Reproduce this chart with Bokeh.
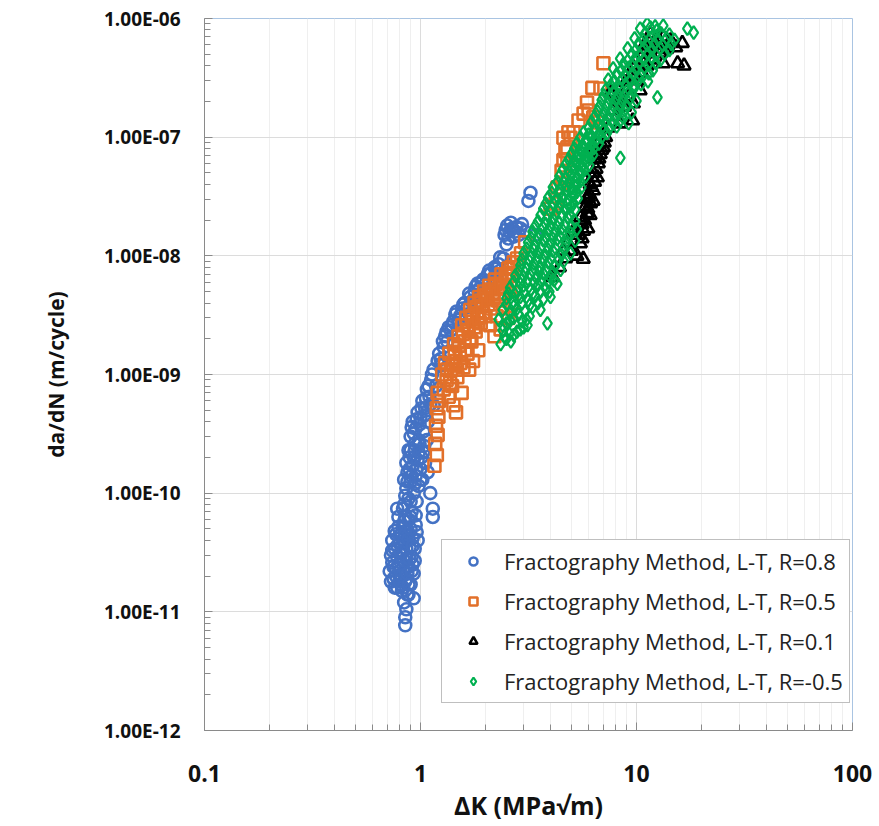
from bokeh.plotting import figure
from bokeh.models import (FixedTicker, CustomJSTickFormatter, Legend, LegendItem, Range1d,
                          ColumnDataSource)
from bokeh.embed import file_html
from bokeh.resources import INLINE

# ---------------- data ----------------
x_ticks = [0.1, 1, 10, 100]
x_tick_labels = ["0.1", "1", "10", "100"]
y_ticks = [1e-12, 1e-11, 1e-10, 1e-9, 1e-8, 1e-7, 1e-6]
y_tick_labels = ["1.00E-12", "1.00E-11", "1.00E-10", "1.00E-09", "1.00E-08", "1.00E-07", "1.00E-06"]

series_labels = [
    "Fractography Method, L-T, R=0.8",
    "Fractography Method, L-T, R=0.5",
    "Fractography Method, L-T, R=0.1",
    "Fractography Method, L-T, R=-0.5",
]

# R = 0.8  (delta K [MPa sqrt m], da/dN [m/cycle])
r08_points = [
    (0.85, 7.7e-12), (0.85, 9.0e-12), (0.86, 1.05e-11), (0.84, 1.2e-11), (0.88, 1.4e-11),
    (0.72, 2.2e-11), (0.73, 3.0e-11), (0.74, 2.6e-11), (0.74, 4.0e-11), (0.75, 1.9e-11),
    (0.76, 3.4e-11), (0.77, 2.3e-11), (0.77, 4.5e-11), (0.78, 1.6e-11), (0.78, 2.9e-11),
    (0.79, 5.2e-11), (0.80, 2.0e-11), (0.80, 3.8e-11), (0.81, 2.6e-11), (0.82, 1.5e-11),
    (0.82, 4.6e-11), (0.83, 3.2e-11), (0.84, 2.2e-11), (0.84, 5.8e-11), (0.85, 1.8e-11),
    (0.85, 3.9e-11), (0.86, 2.8e-11), (0.87, 1.4e-11), (0.87, 4.9e-11), (0.88, 2.4e-11),
    (0.89, 3.5e-11), (0.90, 1.7e-11), (0.90, 6.3e-11), (0.91, 2.9e-11), (0.92, 4.2e-11),
    (0.93, 2.1e-11), (0.94, 3.4e-11), (0.95, 5.4e-11), (0.93, 1.3e-11), (0.76, 1.6e-11),
    (0.81, 1.7e-11), (0.86, 1.9e-11), (0.92, 2.5e-11), (0.97, 4.0e-11),
    (0.73, 1.8e-11), (0.74, 3.3e-11), (0.75, 2.4e-11), (0.76, 4.8e-11), (0.77, 2.0e-11),
    (0.78, 3.6e-11), (0.79, 2.5e-11), (0.80, 1.8e-11), (0.80, 4.4e-11), (0.81, 3.2e-11),
    (0.82, 2.0e-11), (0.83, 5.2e-11), (0.84, 2.7e-11), (0.85, 4.5e-11), (0.86, 3.4e-11),
    (0.87, 2.1e-11), (0.88, 4.1e-11), (0.89, 2.8e-11), (0.90, 5.0e-11), (0.91, 2.2e-11),
    (0.92, 3.6e-11), (0.94, 2.7e-11), (0.96, 4.7e-11), (0.83, 1.6e-11), (0.88, 1.7e-11),
    (0.78, 7.4e-11), (0.83, 7.4e-11), (0.79, 6.3e-11), (0.85, 6.3e-11), (1.11, 1.0e-10),
    (1.14, 7.4e-11), (1.14, 6.3e-11),
    (0.84, 8.0e-11), (0.86, 1.1e-10), (0.87, 1.5e-10), (0.88, 9.0e-11), (0.89, 2.0e-10),
    (0.90, 1.25e-10), (0.91, 7.0e-11), (0.92, 1.7e-10), (0.93, 1.0e-10), (0.94, 2.3e-10),
    (0.95, 1.4e-10), (0.96, 8.5e-11), (0.97, 1.9e-10), (0.98, 1.15e-10), (0.99, 2.6e-10),
    (1.00, 1.6e-10), (1.02, 1.3e-10), (1.03, 2.2e-10), (1.05, 1.8e-10), (1.07, 2.8e-10),
    (1.08, 1.5e-10), (0.88, 6.0e-11), (0.95, 6.5e-11),
    (0.85, 9.5e-11), (0.87, 1.25e-10), (0.89, 1.6e-10), (0.90, 8.5e-11), (0.91, 1.4e-10),
    (0.93, 2.0e-10), (0.94, 1.2e-10), (0.96, 1.6e-10), (0.98, 2.2e-10), (1.00, 1.3e-10),
    (1.01, 2.0e-10), (1.04, 2.5e-10), (0.86, 1.8e-10), (0.84, 1.3e-10), (0.90, 2.3e-10),
    (0.88, 2.3e-10), (0.90, 3.0e-10), (0.92, 4.0e-10), (0.93, 3.2e-10), (0.95, 3.5e-10),
    (0.97, 4.8e-10), (0.98, 2.8e-10), (1.00, 4.3e-10), (1.02, 6.0e-10), (1.03, 3.3e-10),
    (1.05, 5.2e-10), (1.07, 7.5e-10), (1.08, 4.0e-10), (1.10, 6.5e-10), (1.12, 9.0e-10),
    (1.15, 5.5e-10), (1.15, 1.1e-9), (1.18, 8.0e-10), (1.20, 1.3e-9),
    (0.91, 3.6e-10), (0.94, 2.6e-10), (0.96, 4.2e-10), (0.99, 3.8e-10), (1.01, 5.2e-10),
    (1.04, 4.5e-10), (1.06, 6.3e-10), (1.09, 8.0e-10), (1.11, 5.6e-10), (1.13, 1.0e-9),
    (1.22, 1.5e-9), (1.25, 1.2e-9), (1.28, 1.7e-9), (1.30, 2.1e-9), (1.33, 1.9e-9),
    (1.35, 2.5e-9), (1.38, 2.35e-9), (1.42, 2.8e-9), (1.45, 3.2e-9), (1.50, 2.9e-9),
    (1.53, 3.15e-9), (1.56, 3.6e-9), (1.60, 4.0e-9), (1.65, 3.7e-9), (1.70, 4.5e-9),
    (1.74, 4.2e-9), (1.78, 5.0e-9), (1.84, 5.85e-9), (1.88, 5.3e-9), (1.95, 6.3e-9),
    (2.00, 5.8e-9), (2.05, 7.0e-9), (2.11, 7.1e-9), (2.18, 6.5e-9), (2.25, 7.8e-9),
    (2.34, 7.5e-9), (2.34, 9.7e-9), (2.42, 9.5e-9), (2.45, 1.5e-8), (2.52, 1.8e-8),
    (2.58, 1.6e-8), (2.62, 1.9e-8), (2.70, 1.45e-8), (2.78, 1.75e-8), (2.85, 1.5e-8),
    (2.95, 1.85e-8), (3.05, 1.6e-8), (3.16, 2.9e-8), (3.23, 3.4e-8), (3.40, 1.5e-8),
    (2.50, 1.25e-8),
    (1.24, 1.35e-9), (1.27, 1.9e-9), (1.32, 2.3e-9), (1.40, 2.6e-9), (1.47, 3.4e-9),
    (1.58, 3.9e-9), (1.68, 4.8e-9), (1.80, 5.5e-9), (1.92, 6.0e-9), (2.08, 7.5e-9),
    (2.20, 8.0e-9), (2.30, 8.5e-9), (2.48, 1.65e-8), (2.55, 1.4e-8), (2.66, 1.7e-8),
    (2.74, 1.6e-8), (2.90, 1.7e-8),
]

# R = 0.5
r05_points = [
    (1.16, 1.7e-10), (1.19, 2.1e-10), (1.17, 2.6e-10), (1.20, 3.1e-10), (1.18, 3.7e-10),
    (1.21, 4.4e-10), (1.19, 5.2e-10), (1.22, 6.0e-10), (1.20, 7.0e-10),
    (1.26, 1.0e-9), (1.28, 7.5e-10), (1.30, 1.25e-9), (1.32, 9.0e-10), (1.35, 6.5e-10),
    (1.36, 1.5e-9), (1.38, 1.1e-9), (1.40, 8.0e-10), (1.42, 5.5e-10), (1.43, 1.8e-9),
    (1.45, 1.3e-9), (1.46, 4.8e-10), (1.48, 9.5e-10), (1.50, 2.1e-9), (1.52, 1.5e-9),
    (1.55, 7.0e-10), (1.56, 2.6e-9), (1.58, 1.15e-9), (1.60, 1.9e-9), (1.63, 3.0e-9),
    (1.65, 1.5e-9), (1.67, 2.3e-9), (1.70, 3.5e-9), (1.72, 1.9e-9), (1.75, 2.8e-9),
    (1.78, 4.0e-9), (1.80, 2.3e-9), (1.83, 3.3e-9), (1.87, 4.5e-9), (1.90, 2.7e-9),
    (1.93, 3.8e-9), (1.97, 5.0e-9), (2.00, 3.1e-9), (2.04, 4.3e-9), (2.08, 5.6e-9),
    (2.10, 2.6e-9), (2.13, 3.6e-9), (2.17, 4.9e-9), (2.21, 6.3e-9), (2.25, 3.1e-9),
    (2.28, 4.2e-9), (2.32, 5.5e-9), (2.37, 7.0e-9), (2.40, 3.6e-9), (2.45, 4.8e-9),
    (2.50, 6.2e-9), (2.55, 7.8e-9), (2.60, 5.4e-9), (2.66, 6.8e-9), (2.70, 8.8e-9),
    (2.20, 2.1e-9), (2.35, 2.4e-9), (2.55, 3.0e-9), (2.65, 4.0e-9), (2.80, 9.5e-9),
    (1.75, 1.3e-9), (1.85, 1.6e-9), (1.68, 1.1e-9),
    (1.33, 1.1e-9), (1.37, 8.5e-10), (1.41, 1.2e-9), (1.44, 1.55e-9), (1.47, 1.1e-9),
    (1.50, 1.75e-9), (1.53, 1.25e-9), (1.57, 2.2e-9), (1.61, 1.6e-9), (1.64, 2.6e-9),
    (1.69, 2.0e-9), (1.73, 3.1e-9), (1.77, 2.5e-9), (1.82, 3.7e-9), (1.86, 3.0e-9),
    (1.91, 4.2e-9), (1.95, 3.3e-9), (2.01, 4.7e-9), (2.06, 3.9e-9), (2.12, 5.2e-9),
    (2.18, 4.4e-9), (2.24, 5.8e-9), (2.30, 4.8e-9), (2.36, 6.3e-9), (2.42, 5.3e-9),
    (2.48, 6.9e-9), (2.58, 7.2e-9), (2.63, 8.0e-9),
    (2.92, 1.05e-8), (3.05, 1.3e-8), (4.00, 2.5e-8), (4.22, 2.76e-8), (4.31, 3.77e-8),
    (4.54, 4.57e-8), (4.54, 4.1e-8), (4.59, 6.4e-8), (4.79, 8.2e-8), (4.69, 7.6e-8),
    (4.95, 9.9e-8), (4.59, 9.9e-8), (5.11, 1.1e-7), (4.84, 1.1e-7), (5.39, 1.38e-7),
    (5.69, 1.58e-7), (6.00, 1.68e-7), (5.90, 1.96e-7), (6.31, 1.47e-7), (6.59, 1.33e-7),
    (6.25, 2.6e-7), (6.81, 2.57e-7), (7.03, 4.2e-7), (4.79, 6.4e-8), (4.50, 5.2e-8),
]

# R = 0.1
r01_points = [
    (4.10, 6.6e-9), (4.40, 8.0e-9), (4.70, 9.5e-9), (5.00, 1.1e-8), (5.30, 1.0e-8),
    (5.50, 1.27e-8), (5.67, 9.4e-9), (4.80, 1.3e-8), (5.10, 1.6e-8), (4.60, 1.1e-8),
    (5.40, 1.5e-8), (5.69, 1.62e-8), (5.60, 1.85e-8), (5.90, 2.28e-8), (5.50, 2.1e-8),
    (6.13, 2.76e-8), (5.80, 2.6e-8), (6.00, 3.1e-8), (6.32, 3.55e-8), (6.10, 4.0e-8),
    (6.59, 4.57e-8), (6.30, 5.0e-8), (6.66, 6.0e-8), (6.40, 6.5e-8), (6.80, 7.2e-8),
    (7.03, 8.2e-8), (6.60, 8.6e-8), (6.32, 8.2e-8),
    (5.60, 1.4e-8), (5.75, 2.0e-8), (5.95, 2.5e-8), (6.05, 3.3e-8), (5.85, 3.0e-8),
    (6.20, 3.8e-8), (6.40, 4.2e-8), (6.25, 4.6e-8), (6.50, 5.4e-8), (6.70, 6.6e-8),
    (6.55, 7.0e-8), (6.90, 7.8e-8), (7.10, 9.0e-8), (5.95, 1.7e-8), (6.30, 2.9e-8),
    (6.10, 2.2e-8),
    (7.20, 1.0e-7), (7.40, 1.2e-7), (7.80, 1.68e-7), (8.42, 1.3e-7), (9.60, 1.38e-7),
    (9.68, 1.92e-7), (7.58, 2.38e-7), (7.80, 2.33e-7), (8.50, 2.1e-7), (9.00, 2.5e-7),
    (10.4, 2.47e-7), (10.2, 3.0e-7), (9.40, 3.3e-7), (9.68, 3.87e-7), (10.8, 4.18e-7),
    (10.7, 5.07e-7), (11.6, 5.07e-7), (12.9, 5.07e-7), (13.3, 4.18e-7), (15.5, 4.18e-7),
    (16.6, 4.0e-7), (15.2, 5.7e-7), (16.3, 6.2e-7), (14.4, 6.53e-7), (13.3, 6.92e-7),
    (12.5, 6.92e-7), (11.6, 7.48e-7), (12.2, 6.0e-7), (11.0, 6.2e-7), (8.10, 1.5e-7),
    (8.80, 1.8e-7),
    (10.0, 4.5e-7), (11.2, 5.5e-7), (12.0, 4.5e-7), (13.8, 5.5e-7), (14.0, 6.0e-7),
    (12.8, 6.3e-7), (10.6, 3.5e-7), (11.2, 4.0e-7), (8.90, 2.9e-7), (9.90, 3.3e-7),
    (8.20, 2.0e-7), (9.20, 2.2e-7),
]

# R = -0.5
rm05_points = [
    (2.35, 1.8e-9), (2.50, 2.0e-9), (2.62, 1.9e-9),
    (2.40, 2.35e-9), (2.58, 2.2e-9), (2.80, 2.3e-9), (3.00, 2.5e-9), (3.13, 2.6e-9),
    (3.87, 2.7e-9),
    (2.30, 2.9e-9), (2.50, 2.7e-9), (2.70, 3.0e-9), (2.95, 2.8e-9), (3.20, 3.1e-9),
    (2.40, 3.5e-9), (2.60, 3.3e-9), (2.80, 3.6e-9), (3.05, 3.4e-9), (3.30, 3.7e-9), (3.59, 3.5e-9),
    (2.50, 4.4e-9), (2.70, 4.1e-9), (2.90, 4.5e-9), (3.15, 4.2e-9), (3.40, 4.6e-9), (3.70, 4.3e-9), (4.00, 4.5e-9),
    (2.60, 5.4e-9), (2.80, 5.1e-9), (3.00, 5.6e-9), (3.25, 5.2e-9), (3.50, 5.7e-9), (3.80, 5.3e-9), (4.30, 5.8e-9),
    (2.75, 6.8e-9), (2.95, 6.3e-9), (3.20, 7.0e-9), (3.45, 6.5e-9), (3.70, 7.1e-9), (4.00, 6.6e-9), (4.45, 7.6e-9),
    (2.90, 8.3e-9), (3.10, 7.8e-9), (3.35, 8.6e-9), (3.60, 8.0e-9), (3.90, 8.8e-9), (4.20, 8.2e-9), (4.60, 9.0e-9),
    (3.00, 1.05e-8), (3.25, 9.8e-9), (3.50, 1.08e-8), (3.80, 1.0e-8), (4.10, 1.1e-8), (4.50, 1.02e-8), (4.95, 1.05e-8),
    (3.15, 1.3e-8), (3.40, 1.22e-8), (3.70, 1.35e-8), (4.00, 1.25e-8), (4.30, 1.38e-8), (4.70, 1.28e-8), (5.20, 1.34e-8),
    (3.30, 1.6e-8), (3.60, 1.5e-8), (3.90, 1.65e-8), (4.20, 1.55e-8), (4.50, 1.7e-8), (4.90, 1.58e-8), (5.30, 1.68e-8),
    (3.50, 1.95e-8), (3.80, 1.85e-8), (4.10, 2.05e-8), (4.40, 1.9e-8), (4.80, 2.1e-8), (5.20, 1.95e-8),
    (3.70, 2.5e-8), (4.00, 2.35e-8), (4.35, 2.55e-8), (4.70, 2.4e-8), (5.00, 2.6e-8), (5.20, 2.45e-8),
    (3.90, 3.1e-8), (4.25, 2.9e-8), (4.55, 3.15e-8), (4.85, 3.0e-8), (5.10, 3.2e-8), (5.35, 3.05e-8),
    (4.10, 3.8e-8), (4.40, 3.6e-8), (4.75, 3.9e-8), (5.05, 3.7e-8), (5.30, 3.95e-8), (5.55, 3.75e-8),
    (4.40, 4.7e-8), (4.70, 4.5e-8), (5.00, 4.8e-8), (5.30, 4.6e-8), (5.55, 4.9e-8), (5.80, 4.65e-8),
    (4.70, 5.9e-8), (5.00, 5.6e-8), (5.30, 6.0e-8), (5.60, 5.7e-8), (5.85, 6.1e-8), (6.05, 5.8e-8),
    (5.00, 7.2e-8), (5.30, 6.9e-8), (5.60, 7.4e-8), (5.85, 7.0e-8), (6.10, 7.5e-8), (6.30, 7.1e-8), (8.42, 6.7e-8),
    (5.30, 8.9e-8), (5.60, 8.5e-8), (5.90, 9.1e-8), (6.20, 8.7e-8), (6.45, 9.2e-8), (6.70, 8.8e-8),
    (5.70, 1.1e-7), (6.00, 1.05e-7), (6.35, 1.12e-7), (6.70, 1.07e-7), (7.00, 1.13e-7), (7.30, 1.08e-7),
    (6.20, 1.34e-7), (6.70, 1.28e-7), (7.20, 1.36e-7), (7.80, 1.3e-7), (8.40, 1.37e-7), (9.20, 1.31e-7),
    (6.60, 1.65e-7), (7.10, 1.58e-7), (7.60, 1.67e-7), (8.20, 1.6e-7), (8.80, 1.68e-7), (9.50, 1.62e-7),
    (6.90, 2.05e-7), (7.40, 1.95e-7), (8.00, 2.08e-7), (8.60, 2.0e-7), (9.30, 2.1e-7), (10.0, 2.02e-7),
    (7.20, 2.5e-7), (7.80, 2.4e-7), (8.40, 2.55e-7), (9.00, 2.45e-7), (9.70, 2.55e-7), (12.5, 2.16e-7),
    (7.40, 3.05e-7), (7.90, 2.95e-7), (8.60, 3.1e-7), (9.40, 3.0e-7), (10.3, 3.1e-7), (11.3, 2.95e-7),
    (7.80, 3.8e-7), (8.50, 3.65e-7), (9.20, 3.85e-7), (10.0, 3.7e-7), (10.9, 3.85e-7), (11.9, 3.65e-7),
    (8.40, 4.6e-7), (9.10, 4.4e-7), (9.90, 4.65e-7), (10.8, 4.5e-7), (11.8, 4.65e-7), (12.9, 4.45e-7),
    (9.10, 5.6e-7), (9.90, 5.4e-7), (10.8, 5.65e-7), (11.8, 5.45e-7), (12.9, 5.6e-7), (14.2, 5.4e-7),
    (9.80, 6.8e-7), (10.7, 6.6e-7), (11.6, 6.85e-7), (12.6, 6.6e-7), (13.8, 6.8e-7), (15.0, 6.6e-7),
    (10.4, 8.2e-7), (11.6, 8.4e-7), (13.3, 8.7e-7), (17.2, 8.2e-7), (18.4, 7.6e-7), (12.4, 7.9e-7),
    (2.45, 2.1e-9), (2.70, 2.15e-9), (2.90, 2.4e-9),
    (2.40, 2.6e-9), (2.60, 2.85e-9), (2.85, 3.2e-9), (3.10, 2.9e-9),
    (2.50, 3.9e-9), (2.70, 3.75e-9), (2.95, 4.0e-9), (3.20, 3.85e-9), (3.50, 4.0e-9),
    (2.55, 4.8e-9), (2.75, 4.7e-9), (3.00, 4.95e-9), (3.30, 4.75e-9), (3.60, 5.0e-9), (3.95, 5.0e-9),
    (2.70, 6.0e-9), (2.90, 5.8e-9), (3.10, 6.1e-9), (3.35, 5.9e-9), (3.60, 6.2e-9), (3.90, 6.0e-9), (4.15, 6.2e-9),
    (2.85, 7.4e-9), (3.05, 7.2e-9), (3.30, 7.5e-9), (3.55, 7.3e-9), (3.80, 7.6e-9), (4.10, 7.3e-9),
    (2.95, 9.3e-9), (3.20, 9.0e-9), (3.45, 9.4e-9), (3.70, 9.1e-9), (4.00, 9.5e-9), (4.35, 9.2e-9),
    (3.10, 1.15e-8), (3.35, 1.12e-8), (3.60, 1.18e-8), (3.90, 1.13e-8), (4.20, 1.17e-8), (4.60, 1.15e-8),
    (3.25, 1.42e-8), (3.50, 1.4e-8), (3.80, 1.45e-8), (4.10, 1.4e-8), (4.40, 1.47e-8), (4.80, 1.43e-8),
    (3.40, 1.78e-8), (3.70, 1.72e-8), (4.00, 1.8e-8), (4.30, 1.75e-8), (4.65, 1.82e-8), (5.00, 1.76e-8),
    (3.60, 2.2e-8), (3.90, 2.15e-8), (4.20, 2.25e-8), (4.55, 2.18e-8), (4.90, 2.25e-8),
    (3.80, 2.75e-8), (4.15, 2.7e-8), (4.45, 2.8e-8), (4.80, 2.72e-8), (5.10, 2.8e-8),
    (4.05, 3.4e-8), (4.40, 3.35e-8), (4.75, 3.45e-8), (5.05, 3.38e-8), (5.30, 3.45e-8),
    (4.30, 4.2e-8), (4.60, 4.15e-8), (4.90, 4.25e-8), (5.20, 4.18e-8), (5.50, 4.25e-8),
    (4.55, 5.3e-8), (4.85, 5.15e-8), (5.15, 5.35e-8), (5.45, 5.2e-8), (5.75, 5.3e-8),
    (4.85, 6.5e-8), (5.15, 6.3e-8), (5.45, 6.6e-8), (5.75, 6.4e-8), (6.05, 6.55e-8),
    (5.15, 8.0e-8), (5.45, 7.8e-8), (5.75, 8.1e-8), (6.05, 7.9e-8), (6.35, 8.1e-8),
    (5.50, 9.9e-8), (5.85, 9.6e-8), (6.20, 1.0e-7), (6.55, 9.7e-8), (6.90, 1.0e-7),
    (6.00, 1.2e-7), (6.45, 1.18e-7), (6.95, 1.22e-7), (7.50, 1.2e-7), (8.10, 1.23e-7),
    (6.40, 1.48e-7), (6.90, 1.45e-7), (7.40, 1.5e-7), (8.00, 1.46e-7), (8.60, 1.5e-7),
    (6.75, 1.82e-7), (7.25, 1.78e-7), (7.80, 1.85e-7), (8.40, 1.8e-7), (9.00, 1.85e-7),
    (7.05, 2.25e-7), (7.60, 2.2e-7), (8.20, 2.28e-7), (8.80, 2.22e-7), (9.50, 2.3e-7),
    (7.60, 2.75e-7), (8.20, 2.7e-7), (8.90, 2.78e-7), (9.70, 2.72e-7), (10.5, 2.8e-7),
    (8.10, 3.4e-7), (8.80, 3.3e-7), (9.60, 3.45e-7), (10.4, 3.35e-7), (11.4, 3.45e-7),
    (8.70, 4.15e-7), (9.50, 4.05e-7), (10.3, 4.2e-7), (11.3, 4.1e-7), (12.3, 4.2e-7),
    (9.50, 5.0e-7), (10.3, 4.9e-7), (11.3, 5.05e-7), (12.3, 4.95e-7), (13.5, 5.05e-7),
    (10.2, 6.1e-7), (11.2, 6.0e-7), (12.1, 6.15e-7), (13.2, 6.0e-7), (14.5, 6.1e-7),
    (10.9, 7.4e-7), (12.0, 7.3e-7), (13.0, 7.5e-7), (14.2, 7.3e-7), (11.2, 9.0e-7), (12.2, 8.6e-7),
]

# ---------------- figure ----------------
FONT = "Open Sans"
BLUE, ORANGE, BLACK, GREEN = "#4472C4", "#E2702A", "#000000", "#00B050"

p = figure(
    x_axis_type="log", y_axis_type="log",
    x_range=Range1d(0.1, 100), y_range=Range1d(1e-12, 1e-6),
    frame_width=648, frame_height=712,
    min_border_left=204, min_border_right=20, min_border_top=18, min_border_bottom=80,
    output_backend="svg", toolbar_location=None,
    background_fill_color="white", border_fill_color="white",
)
p.outline_line_color = "#A9C4E2"
p.outline_line_width = 1

x_minor = [m * 10.0 ** e for e in (-1, 0, 1) for m in range(2, 10)]
y_minor = [m * 10.0 ** e for e in range(-12, -6) for m in range(2, 10)]
p.xaxis.ticker = FixedTicker(ticks=x_ticks, minor_ticks=x_minor)
p.yaxis.ticker = FixedTicker(ticks=y_ticks, minor_ticks=y_minor)
p.xgrid.ticker = p.xaxis.ticker
p.ygrid.ticker = p.yaxis.ticker

fmt_code = """
let best = 0, d = Infinity;
for (let i = 0; i < tvals.length; i++) {
  const dd = Math.abs(Math.log10(tick) - Math.log10(tvals[i]));
  if (dd < d) { d = dd; best = i; }
}
return tlabels[best];
"""
p.xaxis.formatter = CustomJSTickFormatter(args=dict(tvals=x_ticks, tlabels=x_tick_labels), code=fmt_code)
p.yaxis.formatter = CustomJSTickFormatter(args=dict(tvals=y_ticks, tlabels=y_tick_labels), code=fmt_code)

for ax in (p.xaxis[0], p.yaxis[0]):
    ax.axis_line_color = "#8A8A8A"
    ax.axis_line_width = 1
    ax.major_tick_line_color = "#8A8A8A"
    ax.minor_tick_line_color = "#8A8A8A"
    ax.major_tick_in = 8
    ax.major_tick_out = 0
    ax.minor_tick_in = 6
    ax.minor_tick_out = 0
    ax.major_label_text_font = FONT
    ax.major_label_text_font_style = "bold"
    ax.major_label_text_color = "#111111"
    ax.axis_label_text_font = FONT
    ax.axis_label_text_font_style = "bold"
    ax.axis_label_text_color = "#111111"

p.xaxis.major_label_text_font_size = "23px"
p.yaxis.major_label_text_font_size = "19px"
p.xaxis.axis_label = "ΔK (MPa√m)"
p.yaxis.axis_label = "da/dN (m/cycle)"
p.xaxis.axis_label_text_font_size = "25px"
p.yaxis.axis_label_text_font_size = "21px"
p.xaxis.major_label_standoff = 34
p.yaxis.major_label_standoff = 24
p.xaxis.axis_label_standoff = 3
p.yaxis.axis_label_standoff = 31

p.xgrid.grid_line_color = "#DCDCDC"
p.xgrid.minor_grid_line_color = "#EFEFEF"
p.ygrid.grid_line_color = "#DCDCDC"
p.ygrid.minor_grid_line_color = None

sources = [
    ColumnDataSource(dict(dK=[a for a, b in pts], rate=[b for a, b in pts]))
    for pts in (r08_points, r05_points, r01_points, rm05_points)
]
markers = ["circle", "square", "triangle", "diamond"]
colors = [BLUE, ORANGE, BLACK, GREEN]
data_sizes = [12, 12, 13, 13]
data_widths = [2.6, 2.6, 2.6, 2.2]

renderers = []
for i, src in enumerate(sources):
    r = p.scatter("dK", "rate", source=src, marker=markers[i], size=data_sizes[i],
                  fill_color=None, line_color=colors[i], line_width=data_widths[i])
    renderers.append(r)

legend = Legend(
    items=[LegendItem(label=series_labels[i], renderers=[r]) for i, r in enumerate(renderers)],
    location=(237, 27),
)
legend.border_line_color = "#7F7F7F"
legend.border_line_width = 1
legend.background_fill_color = "white"
legend.background_fill_alpha = 1.0
legend.label_text_font = FONT
legend.label_text_font_size = "22px"
legend.label_text_color = "#222222"
legend.glyph_width = 50
legend.glyph_height = 20
legend.label_standoff = 6
legend.spacing = 10
legend.padding = 6
legend.margin = 0
p.add_layout(legend)

open("out.html", "w").write(file_html(p, INLINE))
